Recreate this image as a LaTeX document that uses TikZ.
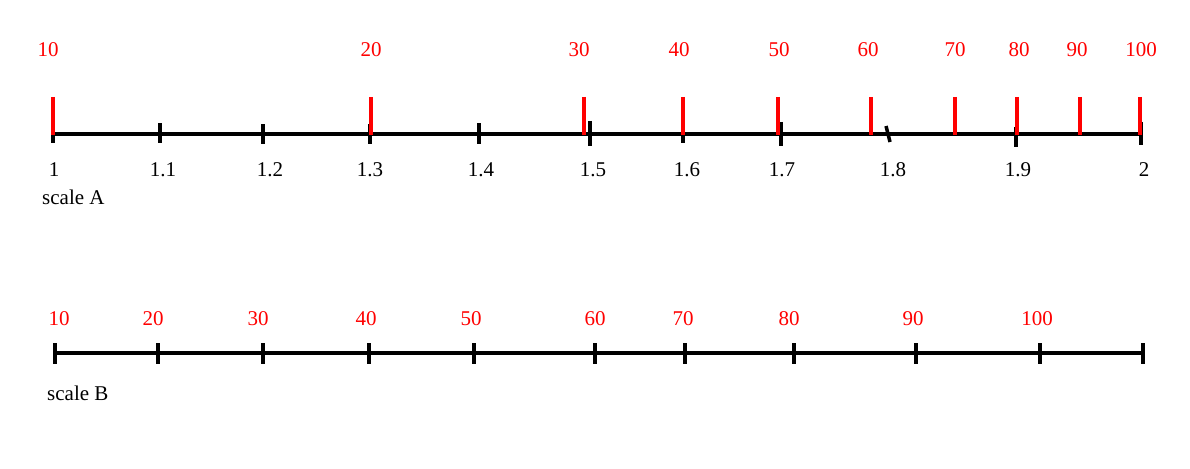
\documentclass[tikz,border=0pt]{standalone}
\usepackage{fontspec}
\setmainfont{Liberation Serif}
\begin{document}
\begin{tikzpicture}[x=1pt,y=-1pt,
  axis/.style={line width=4pt},
  blacktick/.style={line width=3.5pt},
  redtick/.style={line width=4pt,red},
  redlbl/.style={anchor=base,inner sep=0pt,text=red,font=\fontsize{21}{21}\selectfont},
  blacklbl/.style={anchor=base,inner sep=0pt,text=black,font=\fontsize{21}{21}\selectfont},
  namelbl/.style={anchor=base west,inner sep=0pt,text=black,font=\fontsize{21}{21}\selectfont}]
\useasboundingbox (0,0) rectangle (1190,468);
% ---------- scale A ----------
\coordinate (a0) at (51,134);
\coordinate (a1) at (1143,134);
\draw[axis] (a0) -- (a1);
\foreach \x/\t/\b in {53/124/143,160/123/143,263/124/144,370/124/144,479/123/144,590/121/146,683/124/143,781/122/146,1016/127/147,1141/122/145}
  \draw[blacktick] (\x,\t) -- (\x,\b);
\draw[blacktick] (886,126) -- (890,142);
\foreach \x in {53,371,584,683,778,871,955,1017,1080,1140}
  \draw[redtick] (\x,97) -- (\x,135);
\foreach \x/\l in {48/10,371/20,579/30,679/40,779/50,868/60,955/70,1019/80,1077/90,1141/100}
  \node[redlbl] at (\x,57) {\l};
\foreach \x/\l in {54/1,163/1.1,270/1.2,370/1.3,481/1.4,593/1.5,687/1.6,782/1.7,893/1.8,1018/1.9,1144/2}
  \node[blacklbl] at (\x,176) {\l};
\node[namelbl] (nameA) at (42,204) {scale A};
% ---------- scale B ----------
\coordinate (b0) at (54,353);
\coordinate (b1) at (1144,353);
\draw[axis] (b0) -- (b1);
\foreach \x in {55,158,263,369,474,595,685,794,916,1040,1143}
  \draw[blacktick] (\x,343) -- (\x,364);
\foreach \x/\l in {59/10,153/20,258/30,366/40,471/50,595/60,683/70,789/80,913/90,1037/100}
  \node[redlbl] at (\x,325) {\l};
\node[namelbl] (nameB) at (47,400) {scale B};
\end{tikzpicture}
\end{document}
